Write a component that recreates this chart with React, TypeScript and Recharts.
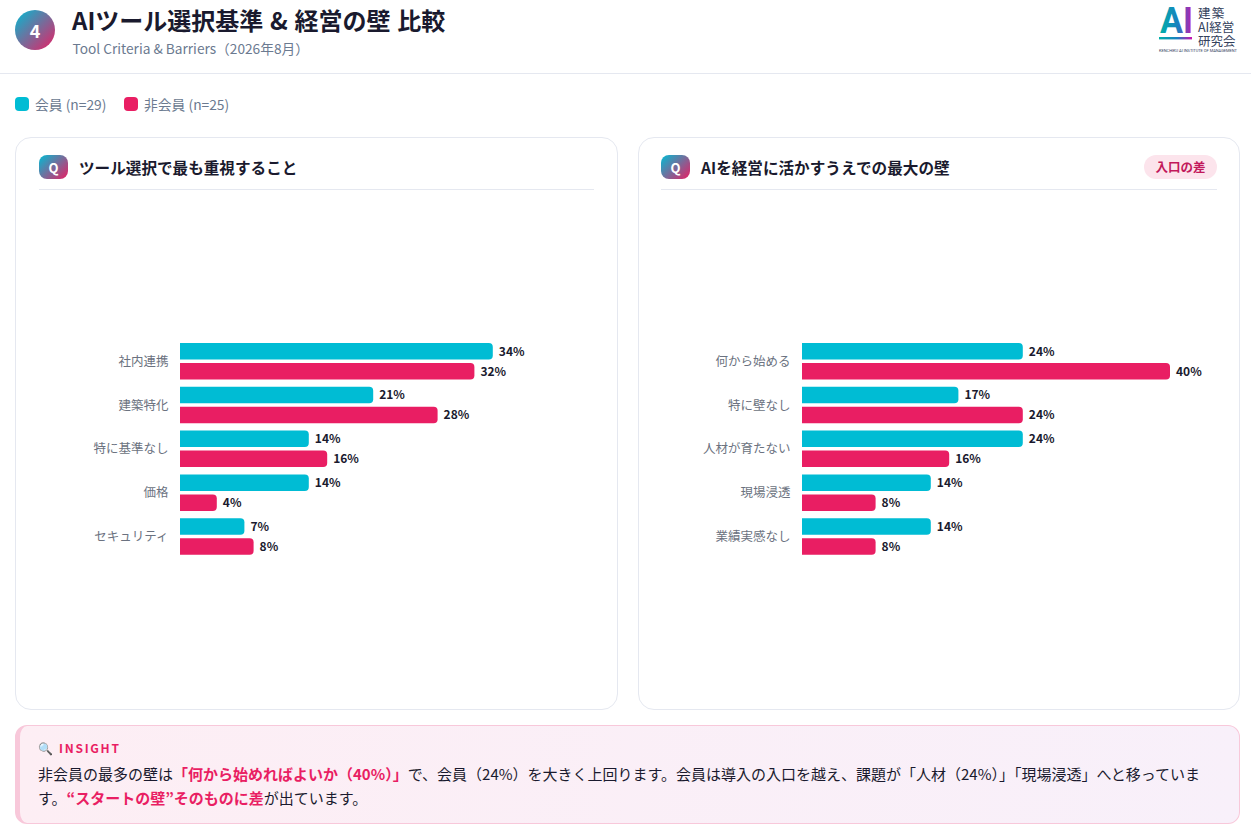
import { BarChart, Bar, XAxis, YAxis, LabelList } from "recharts";

const FONT = '"Noto Sans CJK JP", "Noto Sans", sans-serif';
const MEMBER = "#00bcd4";
const NON_MEMBER = "#e91e63";

const legendLabels = ["会員 (n=29)", "非会員 (n=25)"];

const toolCategories = ["社内連携", "建築特化", "特に基準なし", "価格", "セキュリティ"];
const toolMember = [34, 21, 14, 14, 7];
const toolNonMember = [32, 28, 16, 4, 8];

const barrierCategories = ["何から始める", "特に壁なし", "人材が育たない", "現場浸透", "業績実感なし"];
const barrierMember = [24, 17, 24, 14, 14];
const barrierNonMember = [40, 24, 16, 8, 8];

const toRows = (cats: string[], a: number[], b: number[]) =>
  cats.map((name, i) => ({ name, member: a[i], nonMember: b[i] }));

const gradient = "linear-gradient(135deg, #00bcd4, #e91e63)";

function Chart({ cats, a, b }: { cats: string[]; a: number[]; b: number[] }) {
  return (
    <BarChart
      width={560}
      height={520}
      layout="vertical"
      data={toRows(cats, a, b)}
      margin={{ top: 149, right: 51, bottom: 152, left: 0 }}
      barSize={16.5}
      barGap={3.5}
      barCategoryGap={4}
    >
      <XAxis type="number" domain={[0, 40]} hide />
      <YAxis
        type="category"
        dataKey="name"
        width={141}
        axisLine={false}
        tickLine={false}
        tickMargin={5.5}
        tick={{ fill: "#6b7280", fontSize: 12.5, fontFamily: FONT, dy: 0.5 }}
      />
      <Bar dataKey="member" fill={MEMBER} radius={[0, 4, 4, 0]} isAnimationActive={false}>
        <LabelList
          dataKey="member"
          position="right"
          offset={6}
          formatter={(v: number) => `${v}%`}
          style={{ fill: "#1a1a2e", fontSize: 12, fontWeight: 700, fontFamily: FONT }}
        />
      </Bar>
      <Bar dataKey="nonMember" fill={NON_MEMBER} radius={[0, 4, 4, 0]} isAnimationActive={false}>
        <LabelList
          dataKey="nonMember"
          position="right"
          offset={6}
          formatter={(v: number) => `${v}%`}
          style={{ fill: "#1a1a2e", fontSize: 12, fontWeight: 700, fontFamily: FONT }}
        />
      </Bar>
    </BarChart>
  );
}

function Card({ left, width, inset, title, tag, children }: { left: number; width: number; inset: number; title: string; tag?: string; children: any }) {
  return (
    <div
      style={{
        position: "absolute", left, top: 137, width, height: 573, boxSizing: "border-box",
        border: "1px solid #e5e8f0", borderRadius: 16, background: "#fff",
      }}
    >
      <div style={{ position: "absolute", left: inset, top: 17, width: 29, height: 24, borderRadius: 8, background: gradient, color: "#fff", fontSize: 13, fontWeight: 700, textAlign: "center", lineHeight: "26px" }}>Q</div>
      <div style={{ position: "absolute", left: inset + 40, top: 16, fontSize: 15.6, fontWeight: 700, color: "#1a1a2e", lineHeight: "26px", whiteSpace: "nowrap" }}>{title}</div>
      {tag && (
        <div style={{ position: "absolute", right: 22, top: 17, width: 73, height: 24, borderRadius: 12, background: "#fce4ec", color: "#c2185b", fontSize: 12.5, fontWeight: 700, textAlign: "center", lineHeight: "24px" }}>{tag}</div>
      )}
      <div style={{ position: "absolute", left: inset, right: inset === 23 ? 23 : 22, top: 51, height: 1, background: "#e5e8f0" }} />
      <div style={{ position: "absolute", left: inset, top: 52 }}>{children}</div>
    </div>
  );
}

function Logo() {
  return (
    <svg width={90} height={60} style={{ position: "absolute", left: 1155, top: 0, overflow: "visible" }}>
      <defs>
        <linearGradient id="logoGrad" x1="0" y1="0" x2="1" y2="0">
          <stop offset="0%" stopColor="#00b0a8" />
          <stop offset="55%" stopColor="#1a7fc0" />
          <stop offset="100%" stopColor="#cc12b0" />
        </linearGradient>
      </defs>
      <text x={5} y={33} fontSize={36} fontWeight={700} fill="url(#logoGrad)" fontFamily="Roboto" textLength={33} lengthAdjust="spacingAndGlyphs">AI</text>
      <rect x={4} y={37} width={33} height={2.4} fill="url(#logoGrad)" />
      <g fontSize={12.5} fill="#33415c" fontFamily={FONT}>
        <text x={43} y={18} letterSpacing={1.2}>建築</text>
        <text x={43} y={32}>AI経営</text>
        <text x={43} y={46}>研究会</text>
      </g>
      <text x={4} y={51.5} fontSize={4} fill="#33415c" fontFamily="Roboto" textLength={78}>KENCHIKU AI INSTITUTE OF MANAGEMENT</text>
    </svg>
  );
}

export default function App() {
  return (
    <div style={{ position: "fixed", left: 0, top: 0, width: 1251, height: 833, overflow: "hidden", background: "#fff", fontFamily: FONT }}>
      <div style={{ position: "absolute", left: 15, top: 10, width: 40, height: 40, borderRadius: "50%", background: gradient, color: "#fff", fontSize: 18, fontWeight: 700, textAlign: "center", lineHeight: "40px" }}>4</div>
      <div style={{ position: "absolute", left: 72, top: 2, fontSize: 24, fontWeight: 700, color: "#1a1a2e", lineHeight: "36px", whiteSpace: "nowrap", wordSpacing: 1.3 }}>AIツール選択基準 &amp; 経営の壁 比較</div>
      <div style={{ position: "absolute", left: 72.5, top: 38, fontSize: 13.7, color: "#6b7a90", lineHeight: "20px", whiteSpace: "nowrap" }}>Tool Criteria &amp; Barriers（2026年8月）</div>
      <Logo />
      <div style={{ position: "absolute", left: 0, right: 0, top: 73, height: 1, background: "#e5e8f0" }} />

      {legendLabels.map((label, i) => (
        <div key={label} style={{ position: "absolute", left: i === 0 ? 15 : 124, top: 94, display: "flex", alignItems: "center", fontSize: 13.8, color: "#6b7a90", lineHeight: "20px", whiteSpace: "nowrap" }}>
          <span style={{ width: 14, height: 14, borderRadius: 4, background: i === 0 ? MEMBER : NON_MEMBER, marginRight: 6 }} />
          {label}
        </div>
      ))}

      <Card left={15} width={603} inset={23} title="ツール選択で最も重視すること">
        <Chart cats={toolCategories} a={toolMember} b={toolNonMember} />
      </Card>
      <Card left={638} width={602} inset={22} title="AIを経営に活かすうえでの最大の壁" tag="入口の差">
        <Chart cats={barrierCategories} a={barrierMember} b={barrierNonMember} />
      </Card>

      <div
        style={{
          position: "absolute", left: 15, top: 725, width: 1225, height: 99, boxSizing: "border-box",
          border: "1px solid #f8c8da", borderLeft: "5px solid #f8c8da", borderRadius: 12,
          background: "linear-gradient(90deg, #fdeef4, #f8f0fa)",
        }}
      >
        <div style={{ position: "absolute", left: 18, top: 13, fontSize: 12, fontWeight: 700, color: NON_MEMBER, letterSpacing: 1.7, lineHeight: "18px" }}>🔍 INSIGHT</div>
        <div style={{ position: "absolute", left: 18, top: 35.5, width: 1165, fontSize: 15, color: "#1a1a2e", lineHeight: "24px" }}>
          非会員の最多の壁は<b style={{ color: NON_MEMBER }}>「何から始めればよいか（40%）」</b>で、会員（24%）を大きく上回ります。会員は導入の入口を越え、課題が「人材（24%）」「現場浸透」へと移っています。<b style={{ color: NON_MEMBER }}>“スタートの壁”そのものに差</b>が出ています。
        </div>
      </div>
    </div>
  );
}
